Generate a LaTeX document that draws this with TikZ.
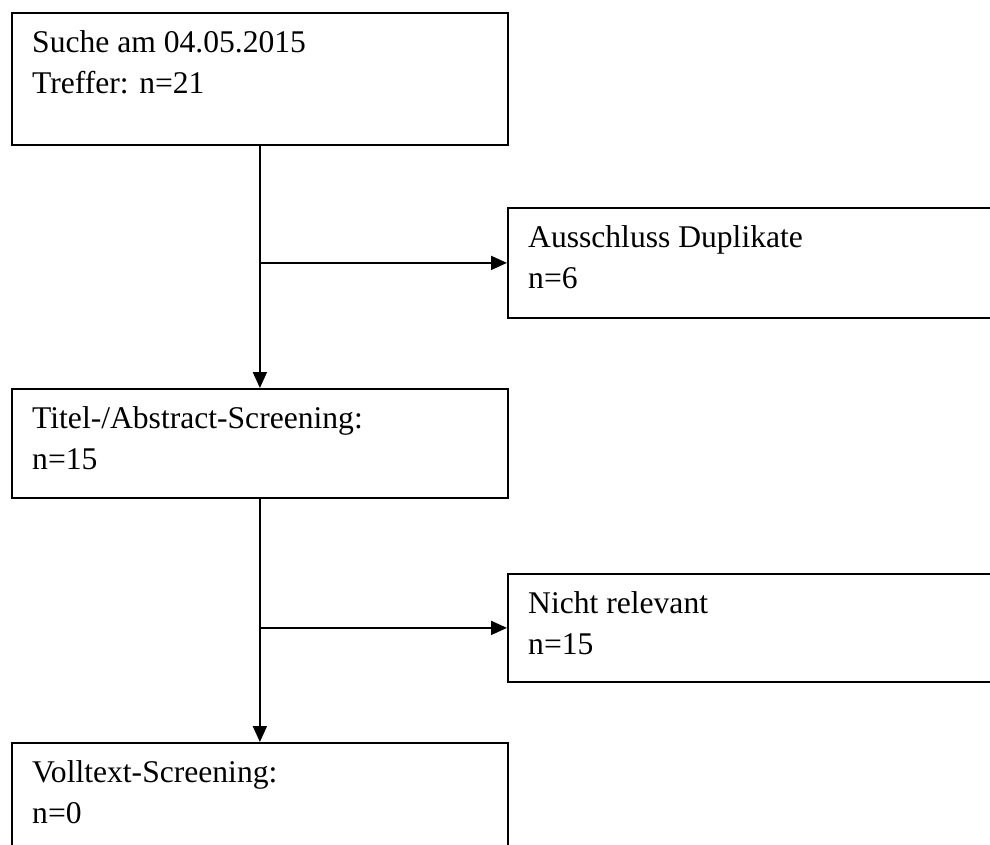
\documentclass[tikz,border=0pt]{standalone}
\usepackage{fontspec}
\setmainfont{Liberation Serif}
\usetikzlibrary{arrows.meta}
\tikzset{
  box/.style={draw=black, line width=1.8pt, rectangle, anchor=north west, inner sep=0pt, minimum width=496pt},
  widebox/.style={box, minimum width=503pt},
  label/.style={anchor=base west, inner sep=0pt, font=\fontsize{31.6}{41.5}\selectfont},
  conn/.style={draw=black, line width=1.8pt, -{Triangle[length=16pt,width=14pt]}}
}
\newcommand{\twolines}[2]{\vtop{\hbox{#1}\hbox{#2}}}
\begin{document}
\begin{tikzpicture}[x=1pt,y=-1pt]
\useasboundingbox (0,0) rectangle (990,844);
\clip (0,0) rectangle (990,844);
\fill[white] (0,0) rectangle (990,844);
% boxes
\node[box, minimum height=132pt] (b1) at (11,12) {};
\node[widebox, minimum height=110pt] (b2) at (507,207) {};
\node[box, minimum height=109pt] (b3) at (11,388) {};
\node[widebox, minimum height=108pt] (b4) at (507,573) {};
\node[box, minimum height=118pt] (b5) at (11,742) {};
% texts
\node[label] (t1) at (32,52) {\twolines{Suche am 04.05.2015}{Treffer: n=21}};
\node[label] (t2) at (528,247) {\twolines{Ausschluss Duplikate}{n=6}};
\node[label] (t3) at (32,428) {\twolines{Titel-/Abstract-Screening:}{n=15}};
\node[label] (t4) at (528,613) {\twolines{Nicht relevant}{n=15}};
\node[label] (t5) at (32,782) {\twolines{Volltext-Screening:}{n=0}};
% junctions
\coordinate (j1) at (b1.south |- b2.west);
\coordinate (j2) at (b3.south |- b4.west);
% connectors
\draw[conn] (b1.south) -- (b3.north);
\draw[conn] (b3.south) -- (b5.north);
\draw[conn] (j1) -- (b2.west);
\draw[conn] (j2) -- (b4.west);
\end{tikzpicture}
\end{document}
